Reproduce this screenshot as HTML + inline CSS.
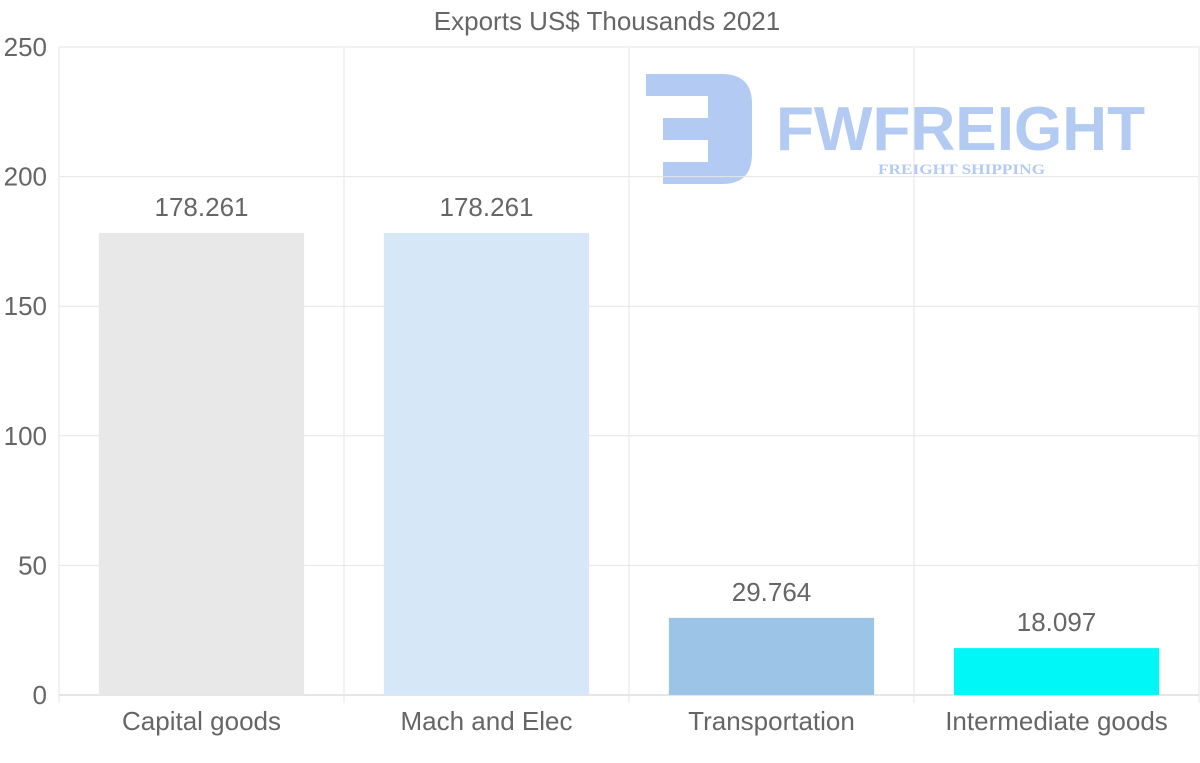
<!DOCTYPE html>
<html><head><meta charset="utf-8"><style>
body{margin:0;background:#fff;}
svg{display:block;font-family:"Liberation Sans",Arial,sans-serif;}
</style></head><body>
<svg id="chart" width="1200" height="763">
<text x="607" y="30" text-anchor="middle" font-size="26" fill="#666">Exports US$ Thousands 2021</text>
<g>
<path d="M646 74 H722 Q752 74 752 104 V154 Q752 184 722 184 H663 V162 H708 V140 H663 V118 H708 V96 H646 Z" fill="#b3cbf3"/>
<text x="776" y="150" font-size="62" font-weight="bold" fill="#b3cbf3" textLength="369" lengthAdjust="spacingAndGlyphs">FWFREIGHT</text>
<text x="878" y="174" font-size="15" font-weight="bold" font-family="Liberation Serif,serif" fill="#b3cbf3" textLength="167" lengthAdjust="spacingAndGlyphs">FREIGHT SHIPPING</text>
</g>
<g id="grid"></g><g id="bars"></g><g id="labels"></g>
</svg>
<script>
const categories=["Capital goods","Mach and Elec","Transportation","Intermediate goods"];
const values=[178.261,178.261,29.764,18.097];
const valueLabels=["178.261","178.261","29.764","18.097"];
const colors=["#e8e8e8","#d6e7f8","#9bc4e6","#00f7f7"];
const yTicks=[0,50,100,150,200,250];
const NS="http://www.w3.org/2000/svg";
const L=59,R=1199,T=47,B=695,yMax=250;
const y=v=>B-(v/yMax)*(B-T);
const cw=(R-L)/categories.length;
const x=i=>L+i*cw;
function mk(tag,attrs,parent){const e=document.createElementNS(NS,tag);for(const k in attrs)e.setAttribute(k,attrs[k]);parent.appendChild(e);return e;}
const grid=document.getElementById('grid'),bars=document.getElementById('bars'),labels=document.getElementById('labels');
yTicks.forEach(t=>{
 const g=mk('line',{x1:L,x2:R,y1:y(t),y2:y(t),stroke:t===0?'#ccc':'#e6e6e6','stroke-width':1},grid);
 
 
 const tx=mk('text',{x:47,y:y(t)+9,'text-anchor':'end','font-size':26,fill:'#666'},labels);
 tx.textContent=t;
 
 
});
for(let i=0;i<=categories.length;i++){
 const v=mk('line',{x1:x(i),x2:x(i),y1:T,y2:B+8,stroke:'#e6e6e6','stroke-width':1},grid);
 
 
}
categories.forEach((c,i)=>{
 const bw=cw*0.72,bx=x(i)+(cw-bw)/2;
 const r=mk('rect',{x:bx,y:y(values[i]),width:bw,height:B-y(values[i]),fill:colors[i]},bars);
 
 
 const vl=mk('text',{x:x(i)+cw/2,y:y(values[i])-17,'text-anchor':'middle','font-size':26,fill:'#666'},labels);
 vl.textContent=valueLabels[i];
 
 
 const cl=mk('text',{x:x(i)+cw/2,y:730,'text-anchor':'middle','font-size':26,fill:'#666'},labels);
 cl.textContent=c;
 
 
});
</script>
</body></html>
